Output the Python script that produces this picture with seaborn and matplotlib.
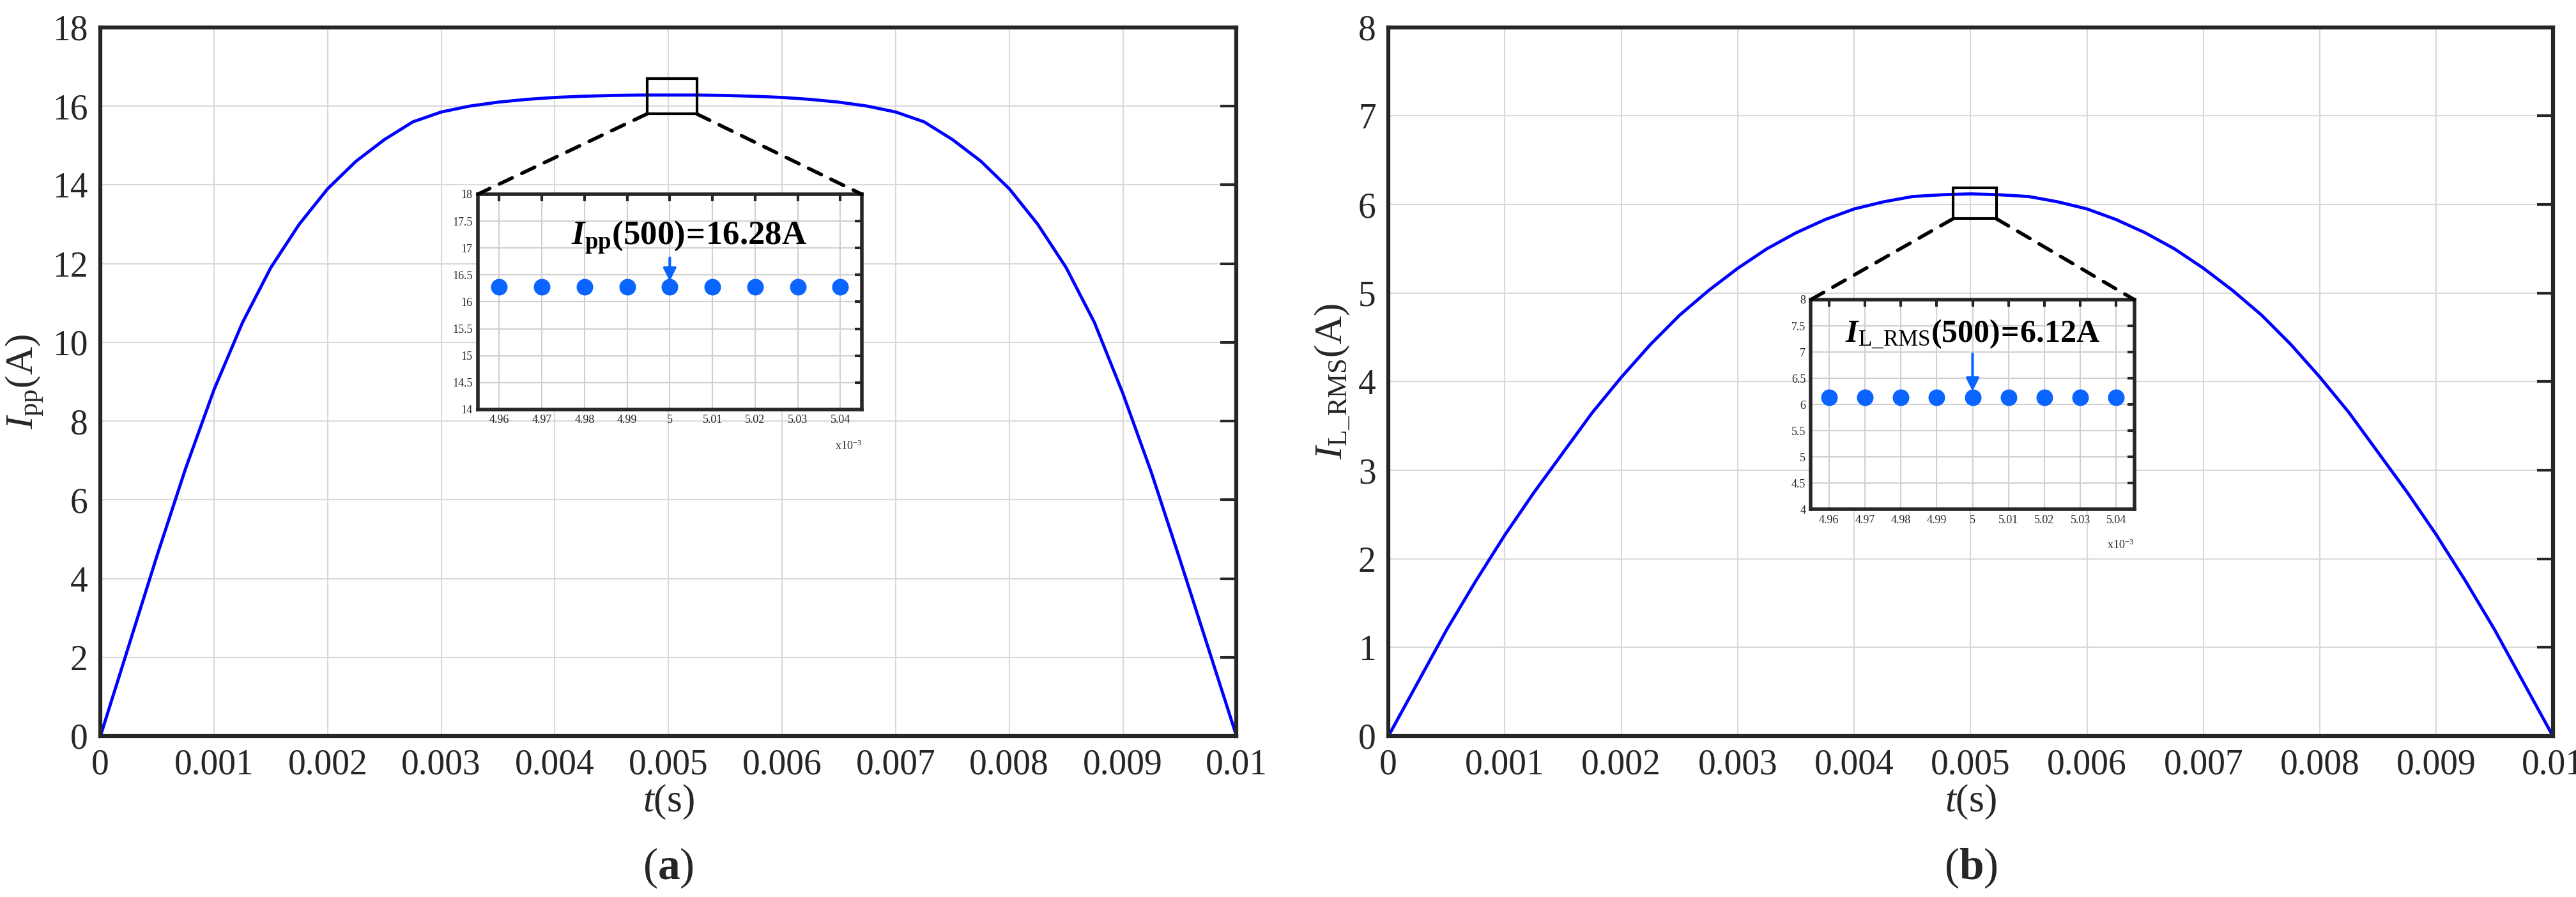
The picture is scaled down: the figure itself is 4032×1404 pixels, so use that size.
import numpy as np
import pandas as pd
import matplotlib
matplotlib.use("Agg")
import matplotlib.pyplot as plt
import seaborn as sns
from matplotlib.patches import Rectangle, ConnectionPatch

# ---- data ----
t_a = [0, .00025, .0005, .00075, .001, .00125, .0015, .00175, .002, .00225, .0025, .00275, .003,
       .00325, .0035, .00375, .004, .00425, .0045, .00475, .005, .00525, .0055, .00575, .006,
       .00625, .0065, .00675, .007, .00725, .0075, .00775, .008, .00825, .0085, .00875, .009,
       .00925, .0095, .00975, .01]
ipp = [0, 2.3, 4.6, 6.8, 8.8, 10.5, 11.9, 13.0, 13.9, 14.6, 15.15, 15.6, 15.85,
       16.0, 16.1, 16.17, 16.22, 16.25, 16.27, 16.28, 16.28, 16.28, 16.27, 16.25, 16.22,
       16.17, 16.1, 16.0, 15.85, 15.6, 15.15, 14.6, 13.9, 13.0, 11.9, 10.5, 8.7,
       6.7, 4.5, 2.25, 0]
t_b = [0, .00025, .0005, .00075, .001, .00125, .0015, .00175, .002, .00225, .0025, .00275, .003,
       .00325, .0035, .00375, .004, .00425, .0045, .00475, .005, .00525, .0055, .00575, .006,
       .00625, .0065, .00675, .007, .00725, .0075, .00775, .008, .00825, .0085, .00875, .009,
       .00925, .0095, .00975, .01]
irms = [0, 0.6, 1.2, 1.75, 2.27, 2.75, 3.2, 3.65, 4.05, 4.42, 4.75, 5.03, 5.28,
        5.5, 5.68, 5.83, 5.95, 6.03, 6.09, 6.11, 6.12, 6.11, 6.09, 6.03, 5.95,
        5.83, 5.68, 5.5, 5.28, 5.03, 4.75, 4.42, 4.05, 3.65, 3.2, 2.75, 2.27,
        1.75, 1.2, 0.6, 0]
inset_t = [4.96, 4.97, 4.98, 4.99, 5.00, 5.01, 5.02, 5.03, 5.04]   # x10^-3
inset_ipp = [16.28] * 9
inset_irms = [6.14] * 9
main_xticks = [0, .001, .002, .003, .004, .005, .006, .007, .008, .009, .01]
main_xlabels = ["0", "0.001", "0.002", "0.003", "0.004", "0.005", "0.006", "0.007", "0.008", "0.009", "0.01"]
inset_xlabels = ["4.96", "4.97", "4.98", "4.99", "5", "5.01", "5.02", "5.03", "5.04"]

sns.set_theme(style="white")
plt.rcParams['font.family'] = ['Liberation Serif', 'DejaVu Serif']
plt.rcParams['mathtext.fontset'] = 'custom'
plt.rcParams['mathtext.rm'] = 'Liberation Serif'
plt.rcParams['mathtext.it'] = 'Liberation Serif:italic'
plt.rcParams['mathtext.bf'] = 'Liberation Serif:bold'
plt.rcParams['mathtext.bfit'] = 'Liberation Serif:bold:italic'

fig = plt.figure(figsize=(40.32, 14.04), dpi=100)
DARK = "#262626"
BLUE = "#0000ff"
DOT = "#0a64ff"

def style_main(ax, ymax, yticks):
    ax.set_xlim(0, 0.01)
    ax.set_ylim(0, ymax)
    ax.set_xticks(main_xticks)
    ax.set_xticklabels(main_xlabels)
    ax.set_yticks(yticks)
    ax.grid(True, color="#d9d9d9", linewidth=1.5)
    ax.tick_params(direction="in", length=18, width=3, labelsize=40, right=True, colors=DARK, pad=14)
    for s in ax.spines.values():
        s.set_linewidth(4.5); s.set_color(DARK)
    ax.set_xlabel(r"$\mathit{t}$(s)", fontsize=44, labelpad=2, color=DARK)

def style_inset(ax, ylo, yticks, ytl):
    ax.set_xlim(4.955, 5.045)
    ax.set_ylim(ylo, ylo + 4)
    ax.set_xticks(inset_t); ax.set_xticklabels(inset_xlabels)
    ax.set_yticks(yticks); ax.set_yticklabels(ytl)
    ax.grid(True, color="#d0d0d0", linewidth=1.5)
    ax.tick_params(direction="in", length=8, width=3, labelsize=13, top=True, right=True, colors=DARK, pad=6)
    for s in ax.spines.values():
        s.set_linewidth(4); s.set_color(DARK)
    ax.set_xlabel(""); ax.set_ylabel("")
    ax.text(1.0, -0.17, r"x10$^{-3}$", transform=ax.transAxes, ha="right", va="center", fontsize=13, color=DARK)

# ---------- panel a ----------
axa = fig.add_axes([0.039, 0.1795, 0.441, 0.79])
sns.lineplot(x=t_a, y=ipp, ax=axa, color=BLUE, linewidth=3.5)
style_main(axa, 18, list(range(0, 19, 2)))
axa.set_ylabel(r"$\mathit{I}_{\mathrm{pp}}$(A)", fontsize=44, labelpad=8, color=DARK)
axa.text(0.5, -0.187, r"($\mathbf{a}$)", transform=axa.transAxes, ha="center", va="center", fontsize=50)
ra = Rectangle((0.00481, 15.8), 0.00044, 0.9, fill=False, edgecolor="black", linewidth=3, zorder=5)
axa.add_patch(ra)

ia = fig.add_axes([0.1855, 0.5435, 0.149, 0.240])
sns.scatterplot(x=inset_t, y=inset_ipp, ax=ia, color=DOT, s=300, edgecolor=DOT, zorder=3)
style_inset(ia, 14, [14, 14.5, 15, 15.5, 16, 16.5, 17, 17.5, 18],
            ["14", "14.5", "15", "15.5", "16", "16.5", "17", "17.5", "18"])
ia.text(5.0045, 17.2, r"$\mathbfit{I}_{\mathbf{pp}}\mathbf{(500)\!=\!16.28A}$", ha="center", va="center", fontsize=38, color="black")
ia.annotate("", xy=(5.0, 16.35), xytext=(5.0, 16.85),
            arrowprops=dict(arrowstyle="-|>", color=DOT, lw=3, mutation_scale=30))

for (xa, ya), (xb, yb) in [((0.00481, 15.8), (0, 1)), ((0.00525, 15.8), (1, 1))]:
    fig.add_artist(ConnectionPatch(xyA=(xa, ya), coordsA=axa.transData, xyB=(xb, yb), coordsB=ia.transAxes,
                                   linestyle=(0, (4, 3)), linewidth=4, color="black"))

# ---------- panel b ----------
axb = fig.add_axes([0.539, 0.1795, 0.452, 0.79])
sns.lineplot(x=t_b, y=irms, ax=axb, color=BLUE, linewidth=3.5)
style_main(axb, 8, list(range(0, 9)))
axb.set_ylabel(r"$\mathit{I}_{\mathrm{L\_RMS}}$(A)", fontsize=44, labelpad=8, color=DARK)
axb.text(0.5, -0.187, r"($\mathbf{b}$)", transform=axb.transAxes, ha="center", va="center", fontsize=50)
rb = Rectangle((0.00485, 5.84), 0.00037, 0.35, fill=False, edgecolor="black", linewidth=3, zorder=5)
axb.add_patch(rb)

ib = fig.add_axes([0.703, 0.432, 0.1255, 0.234])
sns.scatterplot(x=inset_t, y=inset_irms, ax=ib, color=DOT, s=300, edgecolor=DOT, zorder=3)
style_inset(ib, 4, [4, 4.5, 5, 5.5, 6, 6.5, 7, 7.5, 8],
            ["4", "4.5", "5", "5.5", "6", "6.5", "7", "7.5", "8"])
ib.text(5.0, 7.35, r"$\mathbfit{I}_{\mathrm{L\_RMS}}\mathbf{(500)\!=\!6.12A}$", ha="center", va="center", fontsize=36, color="black")
ib.annotate("", xy=(5.0, 6.22), xytext=(5.0, 7.0),
            arrowprops=dict(arrowstyle="-|>", color=DOT, lw=3, mutation_scale=30))

for (xa, ya), (xb, yb) in [((0.00485, 5.84), (0, 1)), ((0.00522, 5.84), (1, 1))]:
    fig.add_artist(ConnectionPatch(xyA=(xa, ya), coordsA=axb.transData, xyB=(xb, yb), coordsB=ib.transAxes,
                                   linestyle=(0, (4, 3)), linewidth=4, color="black"))

fig.savefig("out.png", dpi=100, facecolor="white")
